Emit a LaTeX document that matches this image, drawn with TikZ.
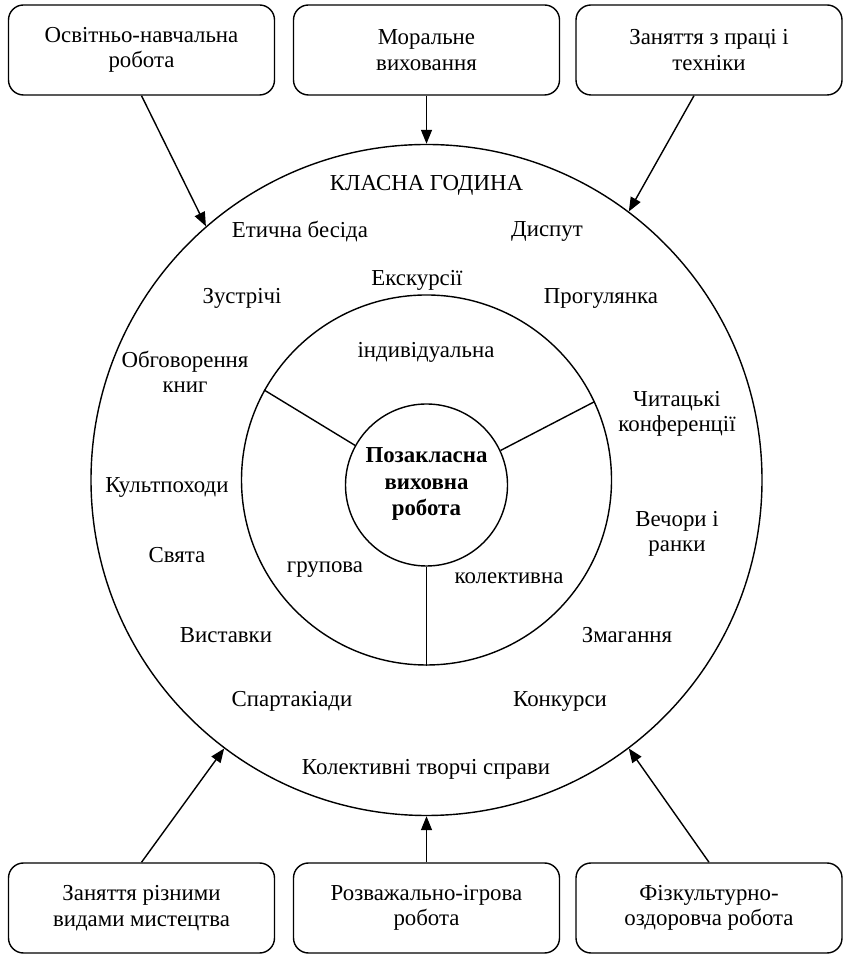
\documentclass[tikz,border=0pt]{standalone}
\usepackage{fontspec}
\setmainfont{Liberation Serif}
\usetikzlibrary{arrows.meta}

\begin{document}
\begin{tikzpicture}[line width=0.8pt,
    txt/.style={align=center,inner sep=1pt,font=\fontsize{13}{14.6}\selectfont},
    box/.style={txt,draw,rounded corners=0.3cm,minimum width=5.32cm,minimum height=1.8cm},
    ring/.style={circle,draw,inner sep=0pt},
    arr/.style={-{Triangle[length=0.28cm,width=0.22cm]}}]
     \useasboundingbox (0,0) rectangle (16.86,19.12);
     \node[ring,minimum size=13.42cm] (outer) at (8.53,9.52) {};
     \node[ring,minimum size=7.40cm] (mid) at (8.53,9.52) {};
     \node[ring,minimum size=3.24cm] (core) at (8.53,9.42) {};
     \node[txt,font=\fontsize{13}{15}\selectfont\bfseries] (pvr) at (8.53,9.44) {Позакласна\\виховна\\робота};
     \draw (core.151) -- (mid.151);
     \draw (core.25) -- (mid.25);
     \draw (core.270) -- (mid.270);
     \node[box] (osv) at ( 2.83,18.12) {Освітньо-навчальна\\робота};
     \node[box] (mor) at ( 8.53,18.12) {Моральне\\виховання};
     \node[box] (pra) at (14.18,18.12) {Заняття з праці і\\техніки};
     \node[box] (mys) at ( 2.83, 0.96) {Заняття різними\\видами мистецтва};
     \node[box] (roz) at ( 8.53, 0.96) {Розважально-ігрова\\робота};
     \node[box] (fiz) at (14.18, 0.96) {Фізкультурно-\\оздоровча робота};
     \draw[arr] (osv.south) -- (outer.131);
     \draw[arr] (mor.south) -- (outer.90);
     \draw[arr] ([xshift=-0.3cm]pra.south) -- (outer.53);
     \draw[arr] (mys.north) -- (outer.233);
     \draw[arr] (roz.north) -- (outer.270);
     \draw[arr] (fiz.north) -- (outer.307);
     \node[txt] (kg)  at ( 8.53,15.42) {КЛАСНА ГОДИНА};
     \node[txt] (etb) at ( 6.00,14.48) {Етична бесіда};
     \node[txt] (dis) at (10.94,14.48) {Диспут};
     \node[txt] (zus) at ( 4.84,13.16) {Зустрічі};
     \node[txt] (eks) at ( 8.34,13.52) {Екскурсії};
     \node[txt] (pro) at (12.02,13.16) {Прогулянка};
     \node[txt] (ind) at ( 8.52,12.08) {індивідуальна};
     \node[txt] (obg) at ( 3.70,11.68) {Обговорення\\книг};
     \node[txt] (chk) at (13.54,10.84) {Читацькі\\конференції};
     \node[txt] (kul) at ( 3.34, 9.38) {Культпоходи};
     \node[txt] (vec) at (13.54, 8.44) {Вечори і\\ранки};
     \node[txt] (sva) at ( 3.54, 8.02) {Свята};
     \node[txt] (gru) at ( 6.50, 7.72) {групова};
     \node[txt] (kol) at (10.18, 7.56) {колективна};
     \node[txt] (vys) at ( 4.52, 6.42) {Виставки};
     \node[txt] (zma) at (12.54, 6.42) {Змагання};
     \node[txt] (spa) at ( 5.84, 5.10) {Спартакіади};
     \node[txt] (kon) at (11.20, 5.10) {Конкурси};
     \node[txt] (kts) at ( 8.52, 3.74) {Колективні творчі справи};
\end{tikzpicture}
\end{document}
